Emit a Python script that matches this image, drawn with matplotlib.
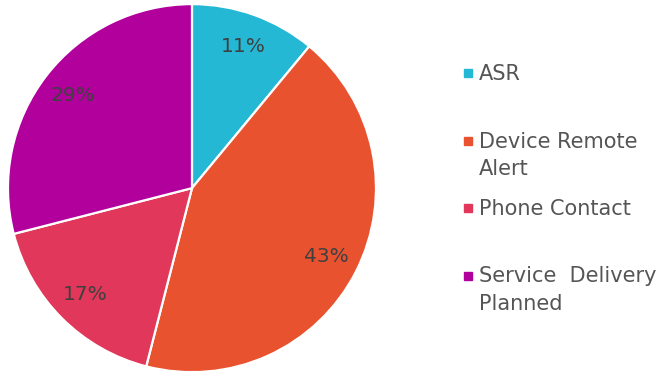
#!/usr/bin/env python3
# -*- coding: utf-8 -*-

import matplotlib
matplotlib.use("Agg")
import matplotlib.pyplot as plt

CATEGORIES = ["ASR", "Device Remote\nAlert", "Phone Contact", "Service  Delivery\nPlanned"]
SHARES = [11, 43, 17, 29]
COLORS = ["#25b8d5", "#e8522f", "#e0375a", "#b1009c"]

plt.rcParams['font.family'] = ['DejaVu Sans']

W, H = 662, 374


def main():
    fig = plt.figure(figsize=(W / 100, H / 100), dpi=100)
    ax = fig.add_axes([0.012, 0.005, 0.556, 0.984])

    ax.pie(SHARES, colors=COLORS, startangle=90, counterclock=False,
           autopct=lambda p: "%d%%" % round(p), pctdistance=0.82,
           wedgeprops=dict(edgecolor="white", linewidth=1.6),
           textprops=dict(color="#404040", fontsize=14.5))
    ax.set_aspect("equal")
    ax.set_xlim(-1, 1)
    ax.set_ylim(-1, 1)

    # legend: small square + label, fixed step between entry baselines
    first = 80
    step = 67.5
    line_h = 27.5
    for i, (label, color) in enumerate(zip(CATEGORIES, COLORS)):
        base = first + i * step
        fig.patches.append(plt.Rectangle((464 / W, 1 - (base - 3) / H), 8 / W, 8 / H,
                                         transform=fig.transFigure, color=color))
        for j, line in enumerate(label.split("\n")):
            fig.text(479 / W, 1 - (base + j * line_h) / H, line, fontsize=15,
                     color="#555555", va="baseline", ha="left")

    fig.savefig("out.png", dpi=100)


if __name__ == "__main__":
    main()
